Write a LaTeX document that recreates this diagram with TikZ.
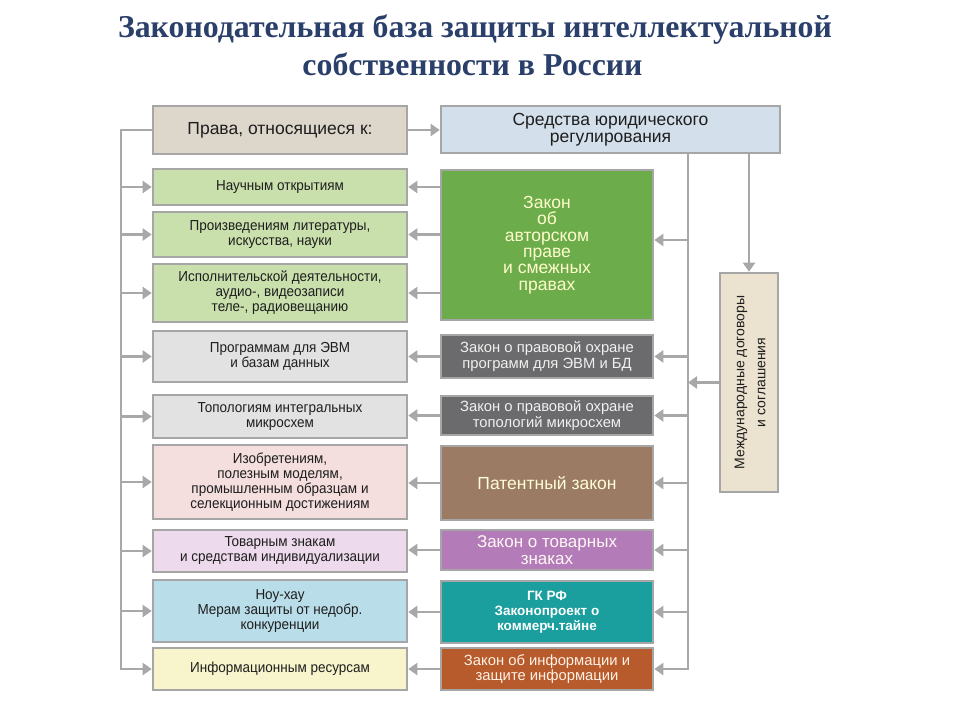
\documentclass[tikz,border=0pt]{standalone}
\usepackage{fontspec}
\setmainfont{Liberation Serif}
\newfontfamily\nar[FakeStretch=0.93]{Liberation Sans}
\newfontfamily\sansf{Liberation Sans}
\usetikzlibrary{arrows.meta}
\definecolor{titlecol}{HTML}{2B3F6B}
\definecolor{bordergray}{HTML}{A6A6A6}
\definecolor{arrowgray}{HTML}{A8A8A8}
\definecolor{textdark}{HTML}{1E1E1E}
\definecolor{hdr}{HTML}{DDD6CB}
\definecolor{sred}{HTML}{D3DFEA}
\definecolor{lgreen}{HTML}{C9E0AD}
\definecolor{lgray}{HTML}{E2E2E2}
\definecolor{lpink}{HTML}{F5DEDE}
\definecolor{llav}{HTML}{EDDAEC}
\definecolor{lblue}{HTML}{B9DDE9}
\definecolor{lyel}{HTML}{F8F5CC}
\definecolor{intl}{HTML}{EBE3CF}
\definecolor{rgreen}{HTML}{6CAC4A}
\definecolor{rgray}{HTML}{6B6B6D}
\definecolor{rbrown}{HTML}{9B7B63}
\definecolor{rmauve}{HTML}{B37CB9}
\definecolor{rteal}{HTML}{1A9E9E}
\definecolor{rorange}{HTML}{B75A2C}
\begin{document}
\begin{tikzpicture}[x=1pt,y=-1pt,
  box/.style={draw=bordergray, line width=2.6pt, rectangle, align=center, inner sep=2pt,
    text=textdark, font=\nar\fontsize{14.5}{15}\selectfont},
  lbox/.style={box, minimum width=254pt},
  rbox/.style={box, minimum width=212pt, font=\sansf\fontsize{14.8}{15.5}\selectfont},
  conn/.style={draw=arrowgray, line width=2.8pt},
  arr/.style={conn, -{Triangle[length=9pt,width=12pt]}},
  ttl/.style={text=titlecol, anchor=base, font=\bfseries\fontsize{31.8}{36}\selectfont}]
\useasboundingbox (0,0) rectangle (960,720);
% title
\node[ttl] (t1) at (475,37) {Законодательная база защиты интеллектуальной};
\node[ttl] (t2) at (472.5,75) {собственности в России};
% left column
\node[lbox, fill=hdr, minimum height=48pt, font=\sansf\fontsize{17.5}{18}\selectfont] (h) at (280,130) {Права, относящиеся к:};
\node[lbox, fill=lgreen, minimum height=36pt] (l1) at (280,187) {Научным открытиям};
\node[lbox, fill=lgreen, minimum height=45pt] (l2) at (280,234.5) {Произведениям литературы,\\искусства, науки};
\node[lbox, fill=lgreen, minimum height=58pt] (l3) at (280,293) {Исполнительской деятельности,\\аудио-, видеозаписи\\теле-, радиовещанию};
\node[lbox, fill=lgray, minimum height=51pt] (l4) at (280,356.5) {Программам для ЭВМ\\и базам данных};
\node[lbox, fill=lgray, minimum height=43pt] (l5) at (280,416.5) {Топологиям интегральных\\микросхем};
\node[lbox, fill=lpink, minimum height=74pt] (l6) at (280,482) {Изобретениям,\\полезным моделям,\\промышленным образцам и\\селекционным достижениям};
\node[lbox, fill=llav, minimum height=42pt] (l7) at (280,551) {Товарным знакам\\и средствам индивидуализации};
\node[lbox, fill=lblue, minimum height=62pt] (l8) at (280,611) {Ноу-хау\\Мерам защиты от недобр.\\конкуренции};
\node[lbox, fill=lyel, minimum height=42pt] (l9) at (280,669) {Информационным ресурсам};
% right column
\node[box, fill=sred, minimum width=339pt, minimum height=47pt, font=\sansf\fontsize{17.5}{17}\selectfont] (sr) at (610.5,129.5) {Средства юридического\\регулирования};
\node[rbox, fill=rgreen, minimum height=150pt, text=white!80!yellow, font=\sansf\fontsize{17.5}{16.3}\selectfont] (r1) at (547,245) {Закон\\об\\авторском\\праве\\и смежных\\правах};
\node[rbox, fill=rgray, minimum height=43pt, text=white!94!black] (r2) at (547,356.5) {Закон о правовой охране\\программ для ЭВМ и БД};
\node[rbox, fill=rgray, minimum height=39pt, text=white!94!black] (r3) at (547,415.5) {Закон о правовой охране\\топологий микросхем};
\node[rbox, fill=rbrown, minimum height=74pt, text=white!85!yellow, font=\sansf\fontsize{17.5}{17}\selectfont] (r4) at (547,483) {Патентный закон};
\node[rbox, fill=rmauve, minimum height=40pt, inner sep=1pt, text=white!85!pink, font=\sansf\fontsize{17}{16.5}\selectfont] (r5) at (547,550) {Закон о товарных\\знаках};
\node[rbox, fill=rteal, minimum height=62pt, text=white, font=\sansf\bfseries\fontsize{13.5}{15}\selectfont] (r6) at (547,612) {ГК РФ\\Законопроект о\\коммерч.тайне};
\node[rbox, fill=rorange, minimum height=42pt, text=white!90!orange] (r7) at (547,669) {Закон об информации и\\защите информации};
\node[box, fill=intl, minimum width=58pt, minimum height=219pt] (it) at (749,382.5) {};
\node[rotate=90, align=center, text=textdark, font=\sansf\fontsize{14}{21}\selectfont] (itt) at ([xshift=1pt]it.center) {Международные договоры\\и соглашения};
% left bus
\coordinate (lb) at (121,130);
\draw[arr] (h.west) -| (lb) |- (l9.west);
\foreach \n in {l1,l2,l3,l4,l5,l6,l7,l8} \draw[arr] (lb |- \n.west) -- (\n.west);
% header -> sredstva
\draw[arr] (h.east) -- (h.east -| sr.west);
% right boxes -> left boxes
\foreach \n in {l1,l2,l3} \draw[arr] (r1.west |- \n.east) -- (\n.east);
\draw[arr] (r2.west) -- (r2.west -| l4.east);
\draw[arr] (r3.west) -- (r3.west -| l5.east);
\draw[arr] (r4.west) -- (r4.west -| l6.east);
\draw[arr] (r5.west) -- (r5.west -| l7.east);
\draw[arr] (r6.west) -- (r6.west -| l8.east);
\draw[arr] (r7.west) -- (r7.west -| l9.east);
% right bus
\coordinate (rb) at (688,153);
\draw[arr] (rb) |- (r7.east);
\foreach \n in {r2,r3,r4,r5,r6} \draw[arr] (rb |- \n.east) -- (\n.east);
\draw[arr] (rb |- 0,240) -- (r1.east |- 0,240);
% sredstva -> international
\draw[arr] (sr.south -| it.center) -- (it.north);
\draw[arr] (it.west) -- (it.west -| rb);
\end{tikzpicture}
\end{document}
